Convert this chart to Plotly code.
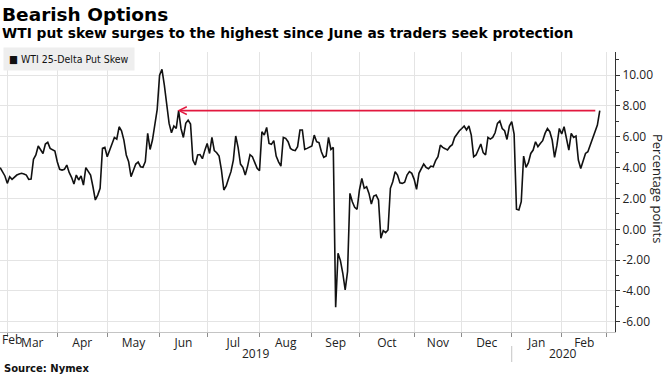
import pandas as pd
import plotly.graph_objects as go

# ---------------- text ----------------
TITLE = "Bearish Options"
SUBTITLE = "WTI put skew surges to the highest since June as traders seek protection"
SERIES_NAME = "WTI 25-Delta Put Skew"
Y_TITLE = "Percentage points"
SOURCE = "Source: Nymex"

# ---------------- calendar (trading days, NYMEX holidays removed) ----------------
FIRST_DAY = "2019-02-26"
LAST_DAY = "2020-02-26"
HOLIDAYS = ["2019-04-19", "2019-05-27", "2019-07-04", "2019-09-02", "2019-11-28",
            "2019-12-25", "2020-01-01", "2020-01-20", "2020-02-17"]

# ---------------- series: WTI 25-delta put skew, one value per trading day ----------------
SKEW = [
    4.00, 3.74, 3.46,                                                  # Feb 2019
    2.98, 3.41, 3.24, 3.41, 3.52, 3.59, 3.63, 3.59, 3.52, 3.24, 3.26,  # Mar
    4.54, 4.82, 5.40, 5.18, 4.92, 5.53, 5.64, 5.25, 5.14, 5.08,
    4.38, 3.89, 3.84, 3.89, 4.17, 3.69, 3.37, 2.94, 3.52, 3.20, 3.46,  # Apr
    2.87, 4.00, 3.74, 3.52, 2.76, 1.90, 2.22, 2.66, 5.25, 5.31,
    4.71, 5.10, 5.46, 5.96, 5.85, 6.65, 6.39, 5.79, 4.82, 4.38, 3.41,  # May
    3.84, 4.23, 4.36, 4.06, 4.02, 4.40, 6.22, 5.18, 5.79, 6.87, 7.78,
    10.00, 10.37, 9.35, 7.95, 6.87, 6.26, 6.70, 6.54, 7.69, 6.54,      # Jun
    5.96, 6.87, 7.08, 6.83, 4.49, 4.17, 4.82, 4.85, 4.58, 5.12,
    5.57, 4.92, 5.96, 5.10, 4.97, 4.75, 3.84, 2.55, 2.81, 3.30, 3.74,  # Jul
    4.49, 6.05, 5.31, 4.23, 4.02, 3.52, 4.10, 4.84, 4.71, 4.38, 3.95,
    3.80, 6.33, 6.11, 6.61, 5.57, 5.51, 5.75, 4.75, 4.38, 4.10, 5.96,  # Aug
    5.90, 5.68, 5.25, 5.14, 5.10, 5.36, 6.44, 6.44, 5.18, 5.25, 5.31,
    5.40, 6.11, 5.68, 5.62, 5.03, 4.67, 4.75, 5.96, 5.18, 5.31,        # Sep
    -5.05, -1.56, -2.03, -2.85, -3.93, -2.74, 2.33, 1.79, 1.43, 1.30,
    2.55, 3.30, 2.66, 2.76, 2.33, 1.64, 2.16, 2.22, 1.90, -0.58, -0.09,  # Oct
    -0.22, -0.04, 2.66, 3.09, 3.74, 3.52, 3.02, 2.98, 3.05, 3.52, 3.74,
    3.63,
    3.24, 2.59, 3.63, 3.95, 4.23, 4.02, 3.93, 4.10, 4.06, 4.45,        # Nov
    4.71, 5.46, 5.31, 5.23, 5.14, 5.36, 5.49, 5.96, 6.22, 6.39,
    6.54, 6.70, 6.44, 6.70, 6.11, 4.71, 4.82, 5.14, 5.53, 4.97, 4.82,  # Dec
    5.96, 5.85, 5.96, 6.26, 6.87, 7.02, 6.54, 6.39, 5.83, 6.70,
    6.98, 6.18, 1.30, 1.25, 1.79, 4.75, 4.02, 4.32, 4.92, 5.14, 5.68,  # Jan 2020
    5.36, 5.57, 5.75, 6.22, 6.54, 6.33, 5.79, 4.67, 5.46, 6.54,
    6.18, 6.65, 6.00, 5.14, 6.22, 5.96, 6.05, 4.49, 3.95, 4.38,        # Feb
    4.92, 5.03, 5.46, 6.00, 6.37, 6.76, 7.70,
]

# ---------------- axes ----------------
FIRST_MONTH_LABEL = "Feb"
MONTHS = ["2019-03", "2019-04", "2019-05", "2019-06", "2019-07", "2019-08",
          "2019-09", "2019-10", "2019-11", "2019-12", "2020-01", "2020-02"]
MONTH_LABELS = ["Mar", "Apr", "May", "Jun", "Jul", "Aug", "Sep", "Oct", "Nov", "Dec", "Jan", "Feb"]
GRID_MONTHS = MONTHS + ["2020-03"]
YEARS = ["2019", "2020"]
YEAR_LABELS = ["2019", "2020"]
Y_TICKS = [-6, -4, -2, 0, 2, 4, 6, 8, 10]
Y_RANGE = [-6.66, 11.5]
X_RANGE = ["2019-02-25 22:20", "2020-03-05 09:36"]

# ---------------- highlight arrow ----------------
ARROW_LEVEL = 7.7
ARROW_TIP = "2019-06-12 11:00"
ARROW_TAIL = "2020-02-24 18:00"

# ================= build =================
dates = pd.bdate_range(FIRST_DAY, LAST_DAY, freq="C", holidays=HOLIDAYS)
n = min(len(dates), len(SKEW))
dates = dates[:n]
values = SKEW[:n]

cal = pd.bdate_range(FIRST_DAY, "2020-03-31", freq="C", holidays=HOLIDAYS)
cal_s = pd.Series(cal)
per = cal_s.dt.to_period("M").astype(str)
first_idx = {p: int(cal_s[per == p].index[0]) for p in per.unique()}
count = {p: int((per == p).sum()) for p in per.unique()}


def mid_pos(i0, span):
    k = i0 + span / 2.0
    whole = int(k)
    return cal[whole] + pd.Timedelta(hours=24 * (k - whole))


label_pos = [mid_pos(first_idx[m], count[m]) for m in MONTHS]
grid_pos = [cal[first_idx[m]] for m in GRID_MONTHS]

# year label positions: centre of the visible part of each year
end_idx = int(cal.searchsorted(pd.Timestamp(X_RANGE[1]).normalize()))
jan_idx = first_idx["2020-01"]
year_spans = {"2019": (0, jan_idx), "2020": (jan_idx, end_idx)}
year_pos = [mid_pos(year_spans[y][0], year_spans[y][1] - year_spans[y][0]) for y in YEARS]

fig = go.Figure()
fig.add_trace(go.Scatter(
    x=dates, y=values, mode="lines", name=SERIES_NAME,
    line=dict(color="#111111", width=1.6), showlegend=False,
    hoverinfo="skip",
))

W, H = 670, 376
ML, MR, MT, MB = 0, 55, 52, 44
PH = H - MT - MB
PW = W - ML - MR


def py(ypix):
    return (H - MB - ypix) / PH


def px(xpix):
    return (xpix - ML) / PW


TICK_FONT = dict(family="Open Sans, DejaVu Sans, sans-serif", size=12, color="#222222")

fig.update_layout(
    width=W, height=H,
    margin=dict(l=ML, r=MR, t=MT, b=MB),
    paper_bgcolor="white", plot_bgcolor="white",
    showlegend=False,
    xaxis=dict(
        type="date",
        range=X_RANGE,
        rangebreaks=[dict(bounds=["sat", "mon"]), dict(values=HOLIDAYS)],
        tickmode="array", tickvals=label_pos, ticktext=MONTH_LABELS,
        ticks="", showgrid=False, zeroline=False,
        showline=True, linecolor="#c4c4c4", linewidth=1,
        tickfont=TICK_FONT,
        minor=dict(tickmode="array", tickvals=grid_pos, ticks="outside", ticklen=4,
                   tickcolor="#8c8c8c", tickwidth=1,
                   showgrid=True, gridcolor="#e4e4e4", gridwidth=1),
    ),
    yaxis=dict(
        side="right", range=Y_RANGE,
        tickmode="array", tickvals=Y_TICKS, ticktext=[f"{v:.2f}" for v in Y_TICKS],
        ticks="outside", ticklen=4, tickcolor="#333333", tickwidth=1,
        showgrid=True, gridcolor="#e4e4e4", gridwidth=1, zeroline=False,
        showline=True, linecolor="#333333", linewidth=1,
        tickfont=TICK_FONT,
        minor=dict(dtick=1, tick0=0, ticks="outside", ticklen=3, tickcolor="#333333",
                   showgrid=False),
    ),
)

ann = []
# title + subtitle
ann.append(dict(text="<b>" + TITLE + "</b>", xref="paper", yref="paper", x=px(0), y=py(14),
                xanchor="left", yanchor="middle", showarrow=False,
                font=dict(family="DejaVu Sans", size=18.5, color="#000000")))
ann.append(dict(text="<b>" + SUBTITLE + "</b>", xref="paper", yref="paper", x=px(0), y=py(33),
                xanchor="left", yanchor="middle", showarrow=False,
                font=dict(family="DejaVu Sans", size=13.8, color="#000000")))
# legend box
ann.append(dict(text="■ " + SERIES_NAME, xref="paper", yref="paper", x=px(3), y=py(47),
                xanchor="left", yanchor="top", showarrow=False, align="left",
                bgcolor="#eeeeee", borderpad=5,
                font=dict(family="Liberation Sans Narrow, DejaVu Sans Condensed, Open Sans, sans-serif",
                          size=10.5, color="#111111")))
# y axis title (reads top-to-bottom)
ann.append(dict(text=Y_TITLE, xref="paper", yref="paper", x=px(658.5), y=py(188.5),
                xanchor="center", yanchor="middle", showarrow=False, textangle=90,
                font=dict(family="Open Sans, DejaVu Sans, sans-serif", size=13, color="#222222")))
# partial first month label
ann.append(dict(text=FIRST_MONTH_LABEL, xref="paper", yref="paper", x=px(0), y=py(339),
                xanchor="left", yanchor="middle", showarrow=False, font=TICK_FONT))
# year labels
for pos, lab in zip(year_pos, YEAR_LABELS):
    ann.append(dict(text=lab, xref="x", yref="paper", x=pos, y=py(353.5),
                    xanchor="center", yanchor="middle", showarrow=False, font=TICK_FONT))
# source
ann.append(dict(text="<b>" + SOURCE + "</b>", xref="paper", yref="paper", x=px(2), y=py(368.5),
                xanchor="left", yanchor="middle", showarrow=False,
                font=dict(family="DejaVu Sans", size=10, color="#111111")))
# red highlight arrow
ann.append(dict(text="", x=ARROW_TIP, y=ARROW_LEVEL, ax=ARROW_TAIL, ay=ARROW_LEVEL,
                xref="x", yref="y", axref="x", ayref="y",
                showarrow=True, arrowhead=5, arrowsize=0.9, arrowwidth=1.7,
                arrowcolor="#e2193f", standoff=0, startstandoff=0))
fig.update_layout(annotations=ann)

# year separator
fig.add_shape(type="line", xref="x", yref="paper",
              x0=cal[jan_idx], x1=cal[jan_idx], y0=py(346), y1=py(362),
              line=dict(color="#c4c4c4", width=1))

# remove the page's default 8px body margin so the 670x376 figure fills the window
fig.write_html("out.html",
               config={"displayModeBar": False},
               post_script="document.body.style.margin='0';document.body.style.overflow='hidden';")
